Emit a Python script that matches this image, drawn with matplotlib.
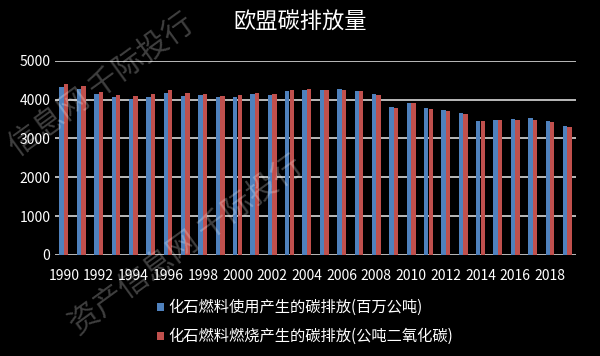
import matplotlib
matplotlib.use("Agg")
import matplotlib.pyplot as plt
import numpy as np

plt.rcParams['font.family'] = ['Noto Sans CJK SC', 'DejaVu Sans']

years = list(range(1990, 2020))
fossil_use = [4330, 4278, 4149, 4072, 4020, 4072, 4175, 4098, 4123, 4072,
              4072, 4149, 4123, 4226, 4252, 4252, 4278, 4226, 4149, 3814,
              3917, 3788, 3737, 3659, 3453, 3479, 3505, 3530, 3453, 3324]
fossil_burn = [4407, 4355, 4200, 4123, 4098, 4149, 4252, 4175, 4149, 4098,
               4123, 4175, 4149, 4252, 4278, 4252, 4252, 4226, 4123, 3788,
               3917, 3762, 3711, 3634, 3453, 3479, 3479, 3479, 3427, 3299]
labels = ["化石燃料使用产生的碳排放(百万公吨)", "化石燃料燃烧产生的碳排放(公吨二氧化碳)"]

fig = plt.figure(figsize=(6.0, 3.56), dpi=100, facecolor="black")
ax = fig.add_axes([0.092, 0.284, 0.868, 0.545], facecolor="black")

x = np.arange(len(years))
w = 0.25
b1 = ax.bar(x - 0.13, fossil_use, w, color="#4f81bd", label=labels[0], zorder=3)
b2 = ax.bar(x + 0.13, fossil_burn, w, color="#c0504d", label=labels[1], zorder=3)

ax.set_xlim(-0.5, len(years) - 0.5)
ax.set_ylim(0, 5000)
ax.set_yticks(range(0, 5001, 1000))
ax.yaxis.grid(True, color="#d9d9d9", linewidth=1.2, zorder=0)
ax.set_xticks(x[::2])
ax.set_xticklabels([str(y) for y in years[::2]])
for s in ax.spines.values():
    s.set_visible(False)
ax.tick_params(colors="white", labelsize=10, length=0)
ax.tick_params(axis="x", pad=10)

fig.text(0.5, 0.938, "欧盟碳排放量", color="white", fontsize=16, ha="center", va="center")

leg = fig.legend(handles=[b1, b2], loc="upper left", bbox_to_anchor=(0.252, 0.177),
                 frameon=False, fontsize=11, labelcolor="white", handlelength=0.45,
                 handleheight=0.45, handletextpad=0.25, labelspacing=0.8,
                 borderaxespad=0)

# watermark
fig.text(0.17, 0.76, "信息网 千际投行", color="white", alpha=0.25, fontsize=22,
         rotation=36, ha="center", va="center")
fig.text(0.31, 0.31, "资产信息网 千际投行", color="white", alpha=0.25, fontsize=22,
         rotation=36, ha="center", va="center")

fig.savefig("out.png", dpi=100, facecolor="black")
